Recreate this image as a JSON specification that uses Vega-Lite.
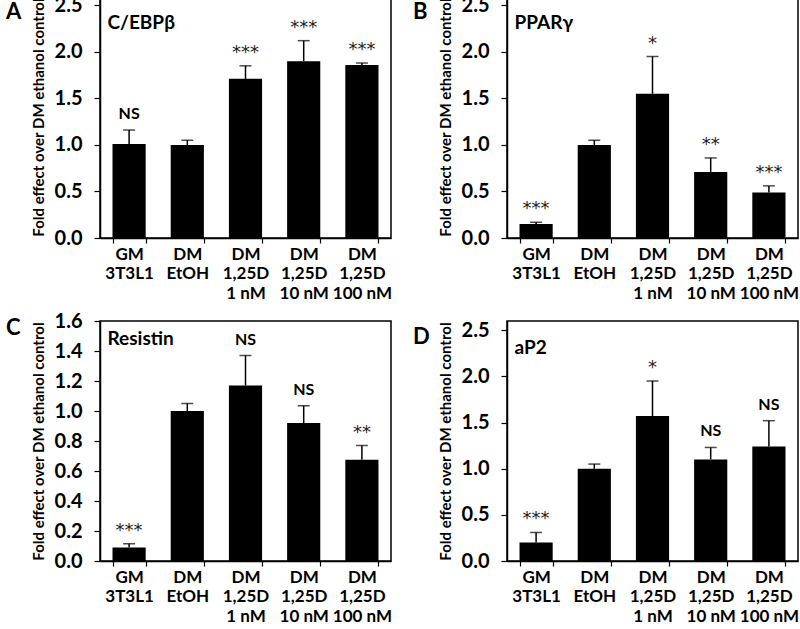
{
  "$schema": "https://vega.github.io/schema/vega-lite/v6.json",
  "background": "white",
  "padding": {"left": 5, "top": -6, "right": 0, "bottom": 0},
  "columns": 2,
  "spacing": {"column": 19, "row": 8},
  "config": {
    "view": {"stroke": "black", "strokeWidth": 1.5},
    "font": "Lato",
    "title": {"font": "Lato", "fontWeight": "bold", "fontSize": 22, "color": "black", "anchor": "start", "frame": "group", "baseline": "top", "offset": -29, "dx": -94},
    "axisX": {
      "title": null, "labelAngle": 0, "labelFont": "Lato", "labelFontWeight": "bold", "labelFontSize": 17,
      "labelColor": "black", "labelLineHeight": 19.5, "labelPadding": 3, "labelBaseline": "top",
      "domainColor": "black", "domainWidth": 1.5, "tickColor": "black", "tickSize": 5, "tickWidth": 1.2,
      "tickBand": "extent", "labelExpr": "split(datum.label, '|')"
    },
    "axisY": {
      "labelFont": "Lato", "labelFontWeight": "bold", "labelFontSize": 20, "labelColor": "black", "labelPadding": 12,
      "labelOverlap": false,
      "domainColor": "black", "domainWidth": 1.5, "tickColor": "black", "tickSize": 6, "tickWidth": 1.2,
      "grid": false, "titleFont": "Lato", "titleFontWeight": "bold", "titleFontSize": 15, "titleColor": "black",
      "titlePadding": 8, "format": ".1f", "title": "Fold effect over DM ethanol control"
    },
    "bar": {"color": "black"}
  },
  "concat": [
    {
      "width": 291, "height": 242,
      "title": {"text": "A"},
      "data": {"values": [
        {"group": "GM|3T3L1", "value": 1.01, "err": 1.16, "sig": "NS"},
        {"group": "DM|EtOH", "value": 1.0, "err": 1.05, "sig": ""},
        {"group": "DM|1,25D|1 nM", "value": 1.71, "err": 1.85, "sig": "***"},
        {"group": "DM|1,25D|10 nM", "value": 1.9, "err": 2.12, "sig": "***"},
        {"group": "DM|1,25D|100 nM", "value": 1.86, "err": 1.88, "sig": "***"}
      ]},
      "encoding": {"x": {"field": "group", "type": "nominal", "sort": null, "scale": {"paddingInner": 0.43, "paddingOuter": 0.215}}},
      "layer": [
        {"mark": {"type": "bar"}, "encoding": {"y": {"field": "value", "type": "quantitative", "scale": {"domain": [0, 2.5]}, "axis": {"values": [0, 0.5, 1, 1.5, 2, 2.5], "labelOverlap": false, "title": "Fold effect over DM ethanol control"}}}},
        {"mark": {"type": "rule", "color": "black", "strokeWidth": 1.5}, "encoding": {"y": {"field": "value", "type": "quantitative", "axis": {"values": [0, 0.5, 1, 1.5, 2, 2.5], "labelOverlap": false, "title": "Fold effect over DM ethanol control"}}, "y2": {"field": "err"}}},
        {"mark": {"type": "tick", "color": "black", "thickness": 1.5, "size": 12}, "encoding": {"y": {"field": "err", "type": "quantitative", "axis": {"values": [0, 0.5, 1, 1.5, 2, 2.5], "labelOverlap": false, "title": "Fold effect over DM ethanol control"}}}},
        {"transform": [{"filter": "datum.sig == 'NS'"}], "mark": {"type": "text", "font": "Lato", "fontWeight": "bold", "fontSize": 16, "baseline": "middle", "dy": -16, "color": "black"}, "encoding": {"y": {"field": "err", "type": "quantitative", "axis": {"values": [0, 0.5, 1, 1.5, 2, 2.5], "labelOverlap": false, "title": "Fold effect over DM ethanol control"}}, "text": {"field": "sig"}}},
        {"transform": [{"filter": "datum.sig != 'NS' && datum.sig != ''"}], "mark": {"type": "text", "font": "DejaVu Sans", "fontSize": 18, "baseline": "middle", "dy": -13, "color": "#222222"}, "encoding": {"y": {"field": "err", "type": "quantitative", "axis": {"values": [0, 0.5, 1, 1.5, 2, 2.5], "labelOverlap": false, "title": "Fold effect over DM ethanol control"}}, "text": {"field": "sig"}}},
        {"data": {"values": [{"group": "GM|3T3L1", "name": "C/EBPβ"}]}, "mark": {"type": "text", "font": "Lato", "fontWeight": "bold", "fontSize": 19, "align": "left", "baseline": "middle", "dx": -5, "dy": 18, "color": "black"}, "encoding": {"x": {"field": "group", "type": "nominal", "bandPosition": 0}, "y": {"datum": 2.5, "type": "quantitative", "axis": {"values": [0, 0.5, 1, 1.5, 2, 2.5], "labelOverlap": false, "title": "Fold effect over DM ethanol control"}}, "text": {"field": "name"}}}
      ]
    },
    {
      "width": 291, "height": 242,
      "title": {"text": "B"},
      "data": {"values": [
        {"group": "GM|3T3L1", "value": 0.15, "err": 0.17, "sig": "***"},
        {"group": "DM|EtOH", "value": 1.0, "err": 1.05, "sig": ""},
        {"group": "DM|1,25D|1 nM", "value": 1.55, "err": 1.95, "sig": "*"},
        {"group": "DM|1,25D|10 nM", "value": 0.71, "err": 0.86, "sig": "**"},
        {"group": "DM|1,25D|100 nM", "value": 0.49, "err": 0.56, "sig": "***"}
      ]},
      "encoding": {"x": {"field": "group", "type": "nominal", "sort": null, "scale": {"paddingInner": 0.43, "paddingOuter": 0.215}}},
      "layer": [
        {"mark": {"type": "bar"}, "encoding": {"y": {"field": "value", "type": "quantitative", "scale": {"domain": [0, 2.5]}, "axis": {"values": [0, 0.5, 1, 1.5, 2, 2.5], "labelOverlap": false, "title": "Fold effect over DM ethanol control"}}}},
        {"mark": {"type": "rule", "color": "black", "strokeWidth": 1.5}, "encoding": {"y": {"field": "value", "type": "quantitative", "axis": {"values": [0, 0.5, 1, 1.5, 2, 2.5], "labelOverlap": false, "title": "Fold effect over DM ethanol control"}}, "y2": {"field": "err"}}},
        {"mark": {"type": "tick", "color": "black", "thickness": 1.5, "size": 12}, "encoding": {"y": {"field": "err", "type": "quantitative", "axis": {"values": [0, 0.5, 1, 1.5, 2, 2.5], "labelOverlap": false, "title": "Fold effect over DM ethanol control"}}}},
        {"transform": [{"filter": "datum.sig == 'NS'"}], "mark": {"type": "text", "font": "Lato", "fontWeight": "bold", "fontSize": 16, "baseline": "middle", "dy": -16, "color": "black"}, "encoding": {"y": {"field": "err", "type": "quantitative", "axis": {"values": [0, 0.5, 1, 1.5, 2, 2.5], "labelOverlap": false, "title": "Fold effect over DM ethanol control"}}, "text": {"field": "sig"}}},
        {"transform": [{"filter": "datum.sig != 'NS' && datum.sig != ''"}], "mark": {"type": "text", "font": "DejaVu Sans", "fontSize": 18, "baseline": "middle", "dy": -13, "color": "#222222"}, "encoding": {"y": {"field": "err", "type": "quantitative", "axis": {"values": [0, 0.5, 1, 1.5, 2, 2.5], "labelOverlap": false, "title": "Fold effect over DM ethanol control"}}, "text": {"field": "sig"}}},
        {"data": {"values": [{"group": "GM|3T3L1", "name": "PPARγ"}]}, "mark": {"type": "text", "font": "Lato", "fontWeight": "bold", "fontSize": 19, "align": "left", "baseline": "middle", "dx": -5, "dy": 18, "color": "black"}, "encoding": {"x": {"field": "group", "type": "nominal", "bandPosition": 0}, "y": {"datum": 2.5, "type": "quantitative", "axis": {"values": [0, 0.5, 1, 1.5, 2, 2.5], "labelOverlap": false, "title": "Fold effect over DM ethanol control"}}, "text": {"field": "name"}}}
      ]
    },
    {
      "width": 291, "height": 240,
      "title": {"text": "C"},
      "data": {"values": [
        {"group": "GM|3T3L1", "value": 0.09, "err": 0.115, "sig": "***"},
        {"group": "DM|EtOH", "value": 1.0, "err": 1.05, "sig": ""},
        {"group": "DM|1,25D|1 nM", "value": 1.17, "err": 1.37, "sig": "NS"},
        {"group": "DM|1,25D|10 nM", "value": 0.92, "err": 1.035, "sig": "NS"},
        {"group": "DM|1,25D|100 nM", "value": 0.675, "err": 0.77, "sig": "**"}
      ]},
      "encoding": {"x": {"field": "group", "type": "nominal", "sort": null, "scale": {"paddingInner": 0.43, "paddingOuter": 0.215}}},
      "layer": [
        {"mark": {"type": "bar"}, "encoding": {"y": {"field": "value", "type": "quantitative", "scale": {"domain": [0, 1.6], "nice": false}, "axis": {"values": [0, 0.2, 0.4, 0.6, 0.8, 1, 1.2, 1.4, 1.6], "labelOverlap": false, "title": "Fold effect over DM ethanol control"}}}},
        {"mark": {"type": "rule", "color": "black", "strokeWidth": 1.5}, "encoding": {"y": {"field": "value", "type": "quantitative", "axis": {"values": [0, 0.2, 0.4, 0.6, 0.8, 1, 1.2, 1.4, 1.6], "labelOverlap": false, "title": "Fold effect over DM ethanol control"}}, "y2": {"field": "err"}}},
        {"mark": {"type": "tick", "color": "black", "thickness": 1.5, "size": 12}, "encoding": {"y": {"field": "err", "type": "quantitative", "axis": {"values": [0, 0.2, 0.4, 0.6, 0.8, 1, 1.2, 1.4, 1.6], "labelOverlap": false, "title": "Fold effect over DM ethanol control"}}}},
        {"transform": [{"filter": "datum.sig == 'NS'"}], "mark": {"type": "text", "font": "Lato", "fontWeight": "bold", "fontSize": 16, "baseline": "middle", "dy": -16, "color": "black"}, "encoding": {"y": {"field": "err", "type": "quantitative", "axis": {"values": [0, 0.2, 0.4, 0.6, 0.8, 1, 1.2, 1.4, 1.6], "labelOverlap": false, "title": "Fold effect over DM ethanol control"}}, "text": {"field": "sig"}}},
        {"transform": [{"filter": "datum.sig != 'NS' && datum.sig != ''"}], "mark": {"type": "text", "font": "DejaVu Sans", "fontSize": 18, "baseline": "middle", "dy": -13, "color": "#222222"}, "encoding": {"y": {"field": "err", "type": "quantitative", "axis": {"values": [0, 0.2, 0.4, 0.6, 0.8, 1, 1.2, 1.4, 1.6], "labelOverlap": false, "title": "Fold effect over DM ethanol control"}}, "text": {"field": "sig"}}},
        {"data": {"values": [{"group": "GM|3T3L1", "name": "Resistin"}]}, "mark": {"type": "text", "font": "Lato", "fontWeight": "bold", "fontSize": 19, "align": "left", "baseline": "middle", "dx": -5, "dy": 18, "color": "black"}, "encoding": {"x": {"field": "group", "type": "nominal", "bandPosition": 0}, "y": {"datum": 1.6, "type": "quantitative", "axis": {"values": [0, 0.2, 0.4, 0.6, 0.8, 1, 1.2, 1.4, 1.6], "labelOverlap": false, "title": "Fold effect over DM ethanol control"}}, "text": {"field": "name"}}}
      ]
    },
    {
      "width": 291, "height": 240,
      "title": {"text": "D"},
      "data": {"values": [
        {"group": "GM|3T3L1", "value": 0.2, "err": 0.31, "sig": "***"},
        {"group": "DM|EtOH", "value": 1.0, "err": 1.05, "sig": ""},
        {"group": "DM|1,25D|1 nM", "value": 1.57, "err": 1.95, "sig": "*"},
        {"group": "DM|1,25D|10 nM", "value": 1.1, "err": 1.23, "sig": "NS"},
        {"group": "DM|1,25D|100 nM", "value": 1.24, "err": 1.52, "sig": "NS"}
      ]},
      "encoding": {"x": {"field": "group", "type": "nominal", "sort": null, "scale": {"paddingInner": 0.43, "paddingOuter": 0.215}}},
      "layer": [
        {"mark": {"type": "bar"}, "encoding": {"y": {"field": "value", "type": "quantitative", "scale": {"domain": [0, 2.5]}, "axis": {"values": [0, 0.5, 1, 1.5, 2, 2.5], "labelOverlap": false, "title": "Fold effect over DM ethanol control"}}}},
        {"mark": {"type": "rule", "color": "black", "strokeWidth": 1.5}, "encoding": {"y": {"field": "value", "type": "quantitative", "axis": {"values": [0, 0.5, 1, 1.5, 2, 2.5], "labelOverlap": false, "title": "Fold effect over DM ethanol control"}}, "y2": {"field": "err"}}},
        {"mark": {"type": "tick", "color": "black", "thickness": 1.5, "size": 12}, "encoding": {"y": {"field": "err", "type": "quantitative", "axis": {"values": [0, 0.5, 1, 1.5, 2, 2.5], "labelOverlap": false, "title": "Fold effect over DM ethanol control"}}}},
        {"transform": [{"filter": "datum.sig == 'NS'"}], "mark": {"type": "text", "font": "Lato", "fontWeight": "bold", "fontSize": 16, "baseline": "middle", "dy": -16, "color": "black"}, "encoding": {"y": {"field": "err", "type": "quantitative", "axis": {"values": [0, 0.5, 1, 1.5, 2, 2.5], "labelOverlap": false, "title": "Fold effect over DM ethanol control"}}, "text": {"field": "sig"}}},
        {"transform": [{"filter": "datum.sig != 'NS' && datum.sig != ''"}], "mark": {"type": "text", "font": "DejaVu Sans", "fontSize": 18, "baseline": "middle", "dy": -13, "color": "#222222"}, "encoding": {"y": {"field": "err", "type": "quantitative", "axis": {"values": [0, 0.5, 1, 1.5, 2, 2.5], "labelOverlap": false, "title": "Fold effect over DM ethanol control"}}, "text": {"field": "sig"}}},
        {"data": {"values": [{"group": "GM|3T3L1", "name": "aP2"}]}, "mark": {"type": "text", "font": "Lato", "fontWeight": "bold", "fontSize": 19, "align": "left", "baseline": "middle", "dx": -5, "dy": 18, "color": "black"}, "encoding": {"x": {"field": "group", "type": "nominal", "bandPosition": 0}, "y": {"datum": 2.5, "type": "quantitative", "axis": {"values": [0, 0.5, 1, 1.5, 2, 2.5], "labelOverlap": false, "title": "Fold effect over DM ethanol control"}}, "text": {"field": "name"}}}
      ]
    }
  ]
}
